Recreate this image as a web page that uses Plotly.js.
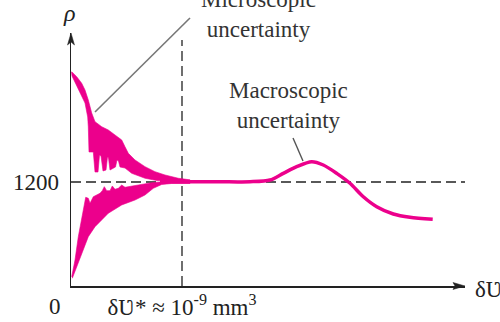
<!DOCTYPE html>
<html>
<head>
<meta charset="utf-8">
<script src="https://cdn.plot.ly/plotly-3.0.1.min.js"></script>
<style>html,body{margin:0;padding:0;background:#fff;}#chart{width:500px;height:322px;}</style>
</head>
<body>
<div id="chart"></div>
<script>
// Density rho versus sampling volume (x in arbitrary linear volume units)
var refDensity = 1200;          // kg/m3 reference level
var critVolume = 111;           // position of dV* on the x scale
var densityTicks = [1200];
var densityTickText = ['1200'];
var volumeTickText = ['\u03b4\u01b2* \u2248 10<sup>-9</sup> mm<sup>3</sup>'];

// upper microscopic scatter band (outline polygon)
var upperBandX = [0.7, 5.7, 10.7, 14, 17.3, 20.7, 24, 30.7, 37.3, 44, 50.7, 54, 57.3, 64, 74, 84, 94, 107.3, 119,
                  119, 99, 85.7, 74, 60.7, 54, 49, 47.5, 46, 44.5, 39, 37.5, 36.5, 35, 32, 30, 28.5, 27, 24, 22.3, 18, 17.3, 16.7, 14, 9, 4, 1, 0.5];
var upperBandY = [2473, 2415, 2339, 2261, 2146, 1996, 1896, 1838, 1800, 1742, 1685, 1607, 1531, 1454, 1377, 1319, 1281, 1243, 1225,
                  1206, 1211, 1217, 1243, 1300, 1361, 1373, 1442, 1454, 1373, 1338, 1477, 1488, 1338, 1327, 1500, 1511, 1315, 1315, 1546, 1546, 1835, 1950, 2111, 2238, 2354, 2423, 2469];

// lower microscopic scatter band (outline polygon)
var lowerBandX = [0.7, 4, 7.3, 10.7, 13.3, 14.7, 17.3, 19, 22.3, 25.7, 29, 31.3, 33.3, 35.7, 39, 41.3, 44, 47.3, 50.7, 54, 60.7, 70.7, 80.7, 89, 119,
                  119, 100.7, 90.7, 82.3, 74, 64, 50.7, 37.3, 30.7, 24, 17.3, 10.7, 5.7, 1.3];
var lowerBandY = [107, 300, 569, 800, 973, 1023, 1012, 954, 1030, 1050, 1070, 1100, 1146, 1100, 1100, 1154, 1116, 1127, 1165, 1139, 1154, 1177, 1192, 1200, 1194,
                  1183, 1183, 1171, 1127, 1050, 992, 935, 839, 762, 684, 569, 377, 223, 89];

// converged / macroscopic curve
var macroX = [89, 119, 150, 179, 199, 212.3, 225.7, 240.7, 252.3, 265.7, 279, 292.3, 305.7, 322.3, 339, 361.7];
var macroY = [1202, 1202, 1202, 1203, 1223, 1300, 1377, 1434, 1396, 1300, 1185, 1030, 915, 831, 793, 770];

var pink = '#EC008C';
var serif = 'Liberation Serif, Times New Roman, serif';

var traces = [
  {x: upperBandX, y: upperBandY, mode: 'lines', fill: 'toself', fillcolor: pink,
   line: {color: pink, width: 0.6}, hoverinfo: 'skip', showlegend: false},
  {x: lowerBandX, y: lowerBandY, mode: 'lines', fill: 'toself', fillcolor: pink,
   line: {color: pink, width: 0.6}, hoverinfo: 'skip', showlegend: false},
  {x: macroX, y: macroY, mode: 'lines', line: {color: pink, width: 3.5, shape: 'spline', smoothing: 0.8},
   hoverinfo: 'skip', showlegend: false}
];

var xMax = 394, yMax = 2919;

var layout = {
  width: 500, height: 322,
  margin: {l: 71, r: 35, t: 33, b: 36},
  paper_bgcolor: '#fff', plot_bgcolor: '#fff',
  font: {family: serif, size: 23, color: '#222'},
  showlegend: false,
  xaxis: {range: [0, xMax], showgrid: false, zeroline: false, showline: true, linecolor: '#222', linewidth: 1.5,
          tickmode: 'array', tickvals: [critVolume], ticktext: volumeTickText, ticks: '',
          tickfont: {family: serif, size: 23, color: '#222'}, fixedrange: true},
  yaxis: {range: [0, yMax], showgrid: false, zeroline: false, showline: true, linecolor: '#222', linewidth: 1.5,
          tickmode: 'array', tickvals: densityTicks, ticktext: densityTickText, ticks: '', ticklabelstandoff: 6,
          tickfont: {family: serif, size: 23, color: '#222'}, fixedrange: true},
  shapes: [
    {type: 'line', xref: 'x', yref: 'y', x0: 0, x1: xMax, y0: refDensity, y1: refDensity, layer: 'below',
     line: {color: '#222', width: 1.3, dash: '10px,5px'}},
    {type: 'line', xref: 'x', yref: 'y', x0: critVolume, x1: critVolume, y0: 0, y1: 2838, layer: 'below',
     line: {color: '#222', width: 1.3, dash: '10px,5px'}},
    // leader lines
    {type: 'line', xref: 'paper', yref: 'paper', x0: 0.0609, y0: 0.6877, x1: 0.302, y1: 1.0593,
     line: {color: '#777', width: 1.6}},
    {type: 'line', xref: 'paper', yref: 'paper', x0: 0.5635, y0: 0.585, x1: 0.5888, y1: 0.494,
     line: {color: '#555', width: 1.4}},
    // arrow heads
    {type: 'path', xref: 'paper', yref: 'paper', path: 'M1,0 L0.9695,0.0138 L0.9746,0 L0.9695,-0.0138 Z',
     fillcolor: '#222', line: {color: '#222', width: 0.5}},
    {type: 'path', xref: 'paper', yref: 'paper', path: 'M0,1 L-0.0089,0.9526 L0,0.9644 L0.0089,0.9526 Z',
     fillcolor: '#222', line: {color: '#222', width: 0.5}}
  ],
  annotations: [
    {xref: 'paper', yref: 'paper', x: 0.476, y: 1.0731, xanchor: 'center', yanchor: 'middle', showarrow: false,
     text: 'Microscopic<br>uncertainty', font: {family: serif, size: 23, color: '#333'}},
    {xref: 'paper', yref: 'paper', x: 0.553, y: 0.7154, xanchor: 'center', yanchor: 'middle', showarrow: false,
     text: 'Macroscopic<br>uncertainty', font: {family: serif, size: 23, color: '#333'}},
    {xref: 'paper', yref: 'paper', x: -0.005, y: 1.079, xanchor: 'center', yanchor: 'middle', showarrow: false,
     text: '<i>\u03c1</i>', font: {family: serif, size: 24, color: '#222'}},
    {xref: 'paper', yref: 'paper', x: -0.0406, y: -0.083, xanchor: 'center', yanchor: 'middle', showarrow: false,
     text: '0', font: {family: serif, size: 23, color: '#222'}},
    {xref: 'paper', yref: 'paper', x: 1.0203, y: -0.0158, xanchor: 'left', yanchor: 'middle', showarrow: false,
     text: '\u03b4\u01b2', font: {family: serif, size: 23, color: '#222'}}
  ]
};

Plotly.newPlot('chart', traces, layout, {staticPlot: true, displayModeBar: false});
</script>
</body>
</html>
